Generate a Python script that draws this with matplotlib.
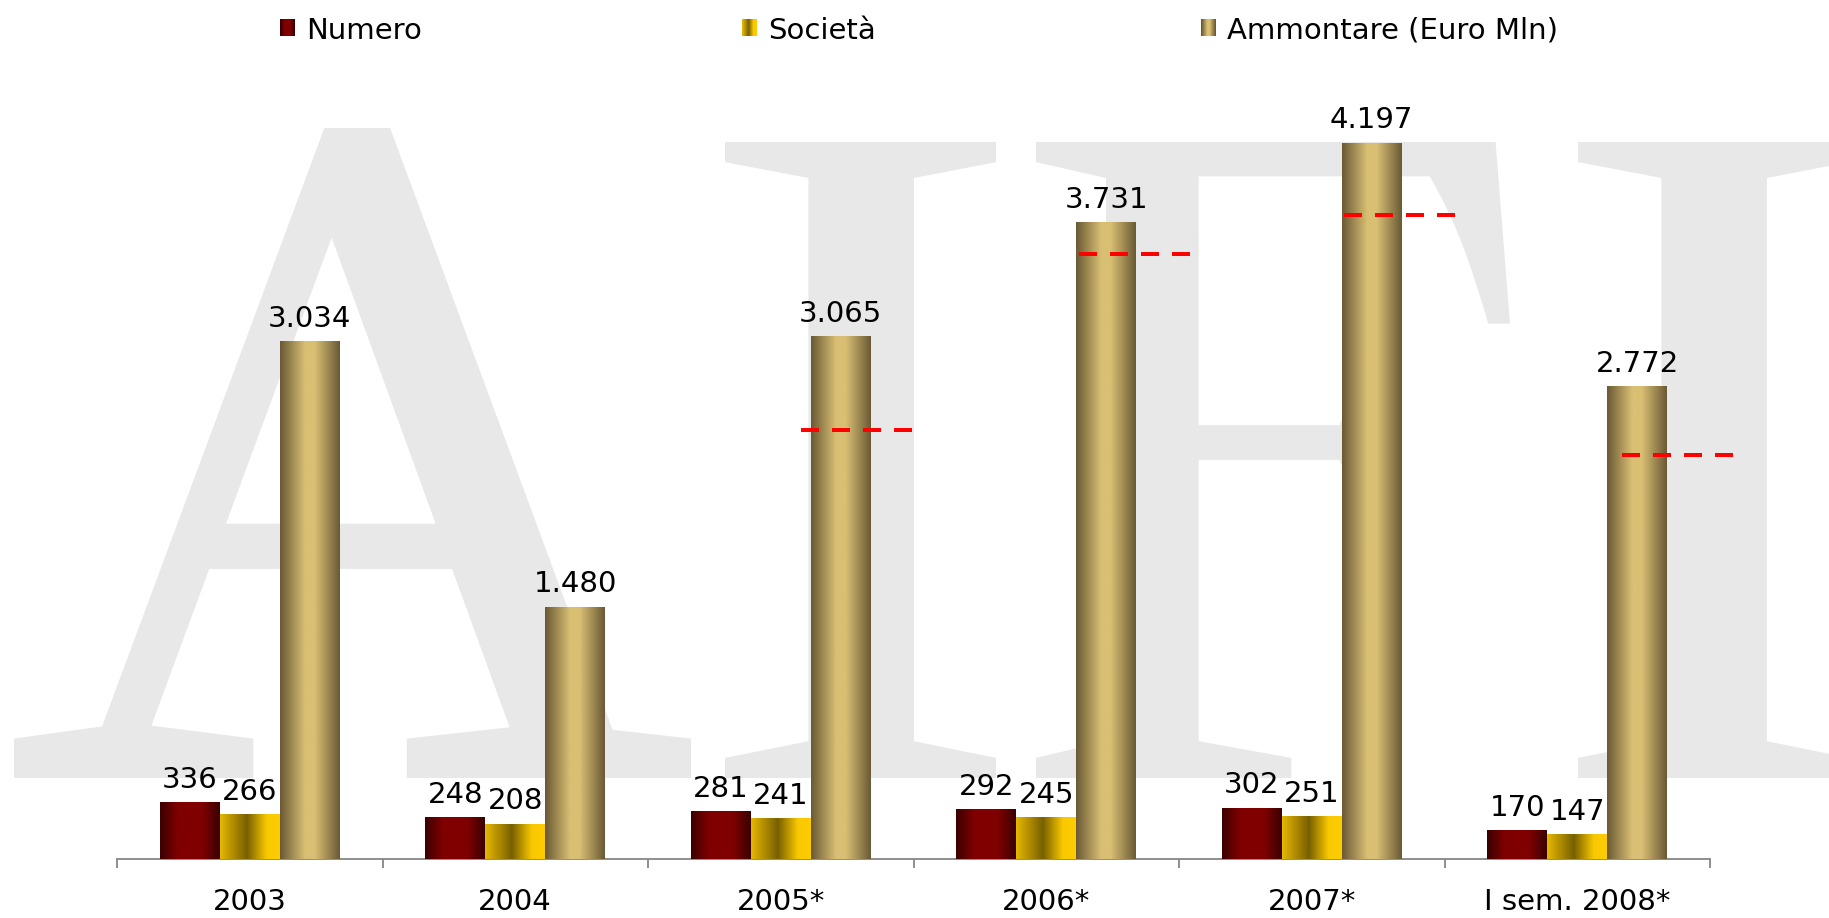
import numpy as np
import matplotlib
matplotlib.use('Agg')
import matplotlib.pyplot as plt
from matplotlib.textpath import TextPath
from matplotlib.font_manager import FontProperties
from matplotlib.patches import PathPatch
from matplotlib.colors import LinearSegmentedColormap
import matplotlib.transforms as mtransforms

# ---------------- data ----------------
categories = ['2003', '2004', '2005*', '2006*', '2007*', 'I sem. 2008*']
numero = [336, 248, 281, 292, 302, 170]
societa = [266, 208, 241, 245, 251, 147]
ammontare = [3034, 1480, 3065, 3731, 4197, 2772]
# red dashed reference levels on the "Ammontare" bars (Euro Mln)
ref_levels = [None, None, 2513, 3547, 3774, 2368]
series_names = ['Numero', 'Società', 'Ammontare (Euro Mln)']

# ---------------- style ----------------
W, H, DPI = 1829, 918, 100
FS = 21
plt.rcParams['font.family'] = ['DejaVu Sans']

cmaps = [
    LinearSegmentedColormap.from_list('num', [(0, '#3a0000'), (0.3, '#800000'), (0.7, '#800000'), (1, '#3a0000')]),
    LinearSegmentedColormap.from_list('soc', [(0, '#e6b800'), (0.45, '#786000'), (0.78, '#f8c800'), (1, '#ffcc00')]),
    LinearSegmentedColormap.from_list('amm', [(0, '#6a5934'), (0.42, '#d9bf73'), (0.58, '#d9bf73'), (1, '#6a5934')]),
]
mid_colors = ['#700000', '#c09a00', '#b9a060']

fig = plt.figure(figsize=(W / DPI, H / DPI), dpi=DPI, facecolor='white')

# ---------------- watermark "AIFI" (each letter fitted to its box, pixels from top-left) ----------------
wm_letters = [('A', 'Source Serif 4', (14, 128, 691, 778)),
              ('I', 'Libre Caslon Text', (725, 142, 996, 778)),
              ('F', 'Libre Caslon Text', (1036, 142, 1510, 778)),
              ('I', 'Libre Caslon Text', (1578, 142, 1849, 778))]
for ch, fam, (l, t, r, b) in wm_letters:
    tp = TextPath((0, 0), ch, size=100, prop=FontProperties(family=fam))
    ext = tp.get_extents()
    tr = (mtransforms.Affine2D().translate(-ext.x0, -ext.y0)
          .scale((r - l) / ext.width, (b - t) / ext.height)
          .translate(l, H - b).scale(1 / W, 1 / H) + fig.transFigure)
    fig.add_artist(PathPatch(tp, facecolor='#e8e8e8', edgecolor='none', transform=tr, zorder=-10))

# ---------------- axes ----------------
base_px = 859.3
px_per_unit = 0.17074
ymax = 4500
ax = fig.add_axes([117 / W, (H - base_px) / H, (1710 - 117) / W, ymax * px_per_unit / H])
ax.set_facecolor('none')

x = np.arange(len(categories))
bw = 0.2256
grad = np.linspace(0, 1, 256)[None, :]

for i, vals in enumerate([numero, societa, ammontare]):
    bc = ax.bar(x + (i - 1) * bw, vals, width=bw, color=mid_colors[i], linewidth=0, zorder=2,
                label=series_names[i])
    for rect, v in zip(bc, vals):
        x0, y0 = rect.get_x(), rect.get_y()
        w, h = rect.get_width(), rect.get_height()
        im = ax.imshow(grad, cmap=cmaps[i], extent=[x0, x0 + w, y0, y0 + h],
                       aspect='auto', interpolation='bilinear', zorder=3)
        im.set_clip_path(rect)
        ax.annotate(f'{v:,}'.replace(',', '.'), (x0 + w / 2, h), xytext=(0, 6),
                    textcoords='offset points', ha='center', va='bottom', fontsize=FS,
                    color='black', zorder=6)

# red dashed reference lines (start offset from the bar's left edge, in category units)
line_len = 0.4215
ref_dx = [0, 0, -0.036, 0.0105, 0.009, 0.056]
for i, lvl in enumerate(ref_levels):
    if lvl is None:
        continue
    xs = x[i] + bw / 2 + ref_dx[i]
    ax.plot([xs, xs + line_len], [lvl, lvl], color='#ff0000', lw=2.88,
            linestyle=(0, (4.5, 3.25)), dash_capstyle='butt', zorder=5, clip_on=False)

ax.set_xlim(-0.5, len(categories) - 0.5)
ax.set_ylim(0, ymax)
for sp in ['left', 'right', 'top']:
    ax.spines[sp].set_visible(False)
ax.spines['bottom'].set_color('#868686')
ax.spines['bottom'].set_linewidth(1.3)
ax.set_yticks([])
ax.set_xticks(x)
ax.set_xticklabels(categories, fontsize=FS)
ax.tick_params(axis='x', which='major', length=0, pad=20.5)
ax.set_xticks(np.arange(-0.5, len(categories), 1), minor=True)
ax.tick_params(axis='x', which='minor', length=6.5, width=1.3, color='#868686', direction='out')

# ---------------- legend (manual) ----------------
marker_x = [280, 742, 1201]
text_x = [306, 768, 1227]
mw, mh, mtop = 15, 17, 19
for i in range(3):
    row = cmaps[i](np.linspace(0, 1, mw))[:, :3]
    arr = np.repeat(row[None, :, :], mh, axis=0)
    fig.figimage(arr, xo=marker_x[i], yo=H - (mtop + mh), origin='upper', zorder=5)
    fig.text(text_x[i] / W, 1 - 39 / H, series_names[i], fontsize=FS, ha='left', va='baseline')

fig.savefig('out.png', dpi=DPI, facecolor='white')
